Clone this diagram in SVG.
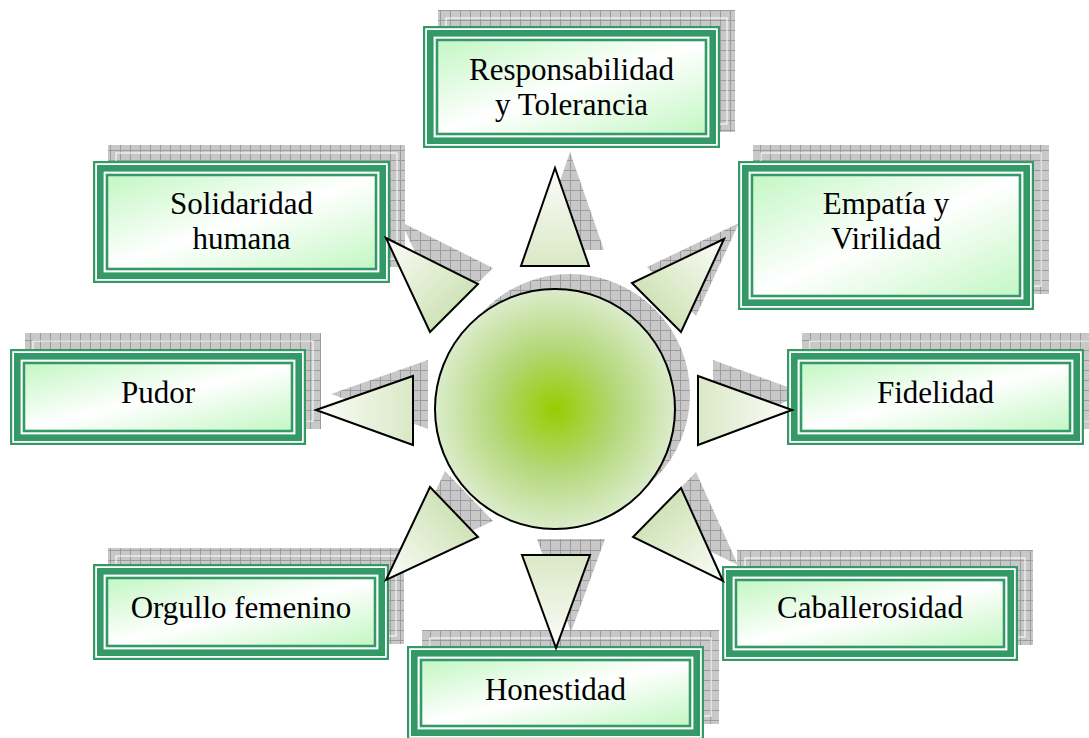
<svg xmlns="http://www.w3.org/2000/svg" width="1089" height="738" viewBox="0 0 1089 738">
<style>
.sh{fill:url(#grid);stroke:none}
.shl{fill:none;stroke:#ffffff;stroke-width:1}
.bg{fill:#ffffff;stroke:none}
.o{fill:none;stroke:#339966;stroke-width:2.2}
.k{fill:none;stroke:#339966;stroke-width:6.6}
.t{fill:none;stroke:#339966;stroke-width:2.6}
.f{fill:url(#boxg);stroke:none}
.tx{font-family:"Liberation Serif","Times New Roman",serif;font-size:31px;fill:#000;text-anchor:middle}
.tri{stroke:#000;stroke-width:2;stroke-linejoin:miter}
</style>
<defs>
<pattern id="grid" patternUnits="userSpaceOnUse" width="10" height="10">
<rect width="10" height="10" fill="#c8c8c8"/>
<path d="M0 0.5H10M0.5 0V10" stroke="#9c9c9c" stroke-width="1"/>
</pattern>
<linearGradient id="boxg" x1="0" y1="0" x2="1" y2="1">
<stop offset="0" stop-color="#c4f7c4"/>
<stop offset="0.5" stop-color="#ffffff"/>
<stop offset="1" stop-color="#c4f7c4"/>
</linearGradient>
<radialGradient id="cg" cx="0.5" cy="0.5" r="0.5">
<stop offset="0" stop-color="#99cc00"/>
<stop offset="0.5" stop-color="#b2d776"/>
<stop offset="1" stop-color="#dbeccb"/>
</radialGradient>
<linearGradient id="g1" gradientUnits="userSpaceOnUse" x1="555" y1="266" x2="555" y2="168"><stop offset="0" stop-color="#dae8c6"/><stop offset="1" stop-color="#fcfdf9"/></linearGradient>
<linearGradient id="g2" gradientUnits="userSpaceOnUse" x1="454" y1="308" x2="386" y2="238"><stop offset="0" stop-color="#d0e3b8"/><stop offset="1" stop-color="#fcfdf9"/></linearGradient>
<linearGradient id="g3" gradientUnits="userSpaceOnUse" x1="656" y1="307" x2="724" y2="239"><stop offset="0" stop-color="#d0e3b8"/><stop offset="1" stop-color="#fcfdf9"/></linearGradient>
<linearGradient id="g4" gradientUnits="userSpaceOnUse" x1="413" y1="410" x2="316" y2="410"><stop offset="0" stop-color="#dae8c6"/><stop offset="1" stop-color="#fcfdf9"/></linearGradient>
<linearGradient id="g5" gradientUnits="userSpaceOnUse" x1="698" y1="410" x2="792" y2="410"><stop offset="0" stop-color="#dae8c6"/><stop offset="1" stop-color="#fcfdf9"/></linearGradient>
<linearGradient id="g6" gradientUnits="userSpaceOnUse" x1="454" y1="512" x2="386" y2="580"><stop offset="0" stop-color="#d0e3b8"/><stop offset="1" stop-color="#fcfdf9"/></linearGradient>
<linearGradient id="g7" gradientUnits="userSpaceOnUse" x1="657" y1="512" x2="723" y2="581"><stop offset="0" stop-color="#d0e3b8"/><stop offset="1" stop-color="#fcfdf9"/></linearGradient>
<linearGradient id="g8" gradientUnits="userSpaceOnUse" x1="556" y1="555" x2="556" y2="648"><stop offset="0" stop-color="#dae8c6"/><stop offset="1" stop-color="#fcfdf9"/></linearGradient>
</defs>
<rect width="1089" height="738" fill="#ffffff"/>

<g id="shadows">
<rect class="sh" x="438" y="10" width="297" height="122"/><rect class="shl" x="446" y="18" width="281" height="106"/>
<rect class="sh" x="108" y="145" width="297" height="122"/><rect class="shl" x="116" y="153" width="281" height="106"/>
<rect class="sh" x="753" y="145" width="296" height="149"/><rect class="shl" x="761" y="153" width="280" height="133"/>
<rect class="sh" x="25" y="333" width="296" height="96"/><rect class="shl" x="33" y="341" width="280" height="80"/>
<rect class="sh" x="802" y="333" width="297" height="96"/><rect class="shl" x="810" y="341" width="281" height="80"/>
<rect class="sh" x="108" y="548" width="296" height="96"/><rect class="shl" x="116" y="556" width="280" height="80"/>
<rect class="sh" x="737" y="550" width="296" height="95"/><rect class="shl" x="745" y="558" width="280" height="79"/>
<rect class="sh" x="422" y="630" width="297" height="94"/><rect class="shl" x="430" y="638" width="281" height="78"/>
<circle class="sh" cx="570" cy="394" r="120"/>
<polygon class="sh" points="570,152 536,250 604,250"/>
<polygon class="sh" points="401,222 493,268 445,316"/>
<polygon class="sh" points="739,223 647,267 696,316"/>
<polygon class="sh" points="331,394 428,360 428,429"/>
<polygon class="sh" points="807,394 713,360 713,429"/>
<polygon class="sh" points="401,564 445,471 493,521"/>
<polygon class="sh" points="738,565 696,472 648,521"/>
<polygon class="sh" points="571,632 537,539 605,539"/>
</g>

<g id="node-responsabilidad">
<rect class="bg" x="423" y="26" width="297" height="122"/>
<rect class="o" x="424.1" y="27.1" width="294.8" height="119.8"/>
<rect class="k" x="430.3" y="33.3" width="282.4" height="107.4"/>
<rect class="f" x="438.3" y="41.3" width="266.4" height="91.4"/>
<rect class="t" x="437" y="40" width="269" height="94"/>
<text class="tx" x="571.5" y="80">Responsabilidad</text>
<text class="tx" x="571.5" y="115">y Tolerancia</text>
</g>

<g id="node-solidaridad">
<rect class="bg" x="93" y="161" width="297" height="122"/>
<rect class="o" x="94.1" y="162.1" width="294.8" height="119.8"/>
<rect class="k" x="100.3" y="168.3" width="282.4" height="107.4"/>
<rect class="f" x="108.3" y="176.3" width="266.4" height="91.4"/>
<rect class="t" x="107" y="175" width="269" height="94"/>
<text class="tx" x="241.5" y="214">Solidaridad</text>
<text class="tx" x="241.5" y="249">humana</text>
</g>

<g id="node-empatia">
<rect class="bg" x="738" y="161" width="296" height="149"/>
<rect class="o" x="739.1" y="162.1" width="293.8" height="146.8"/>
<rect class="k" x="745.3" y="168.3" width="281.4" height="134.4"/>
<rect class="f" x="753.3" y="176.3" width="265.4" height="118.4"/>
<rect class="t" x="752" y="175" width="268" height="121"/>
<text class="tx" x="886" y="214">Empatía y</text>
<text class="tx" x="886" y="249">Virilidad</text>
</g>

<g id="node-pudor">
<rect class="bg" x="10" y="349" width="296" height="96"/>
<rect class="o" x="11.1" y="350.1" width="293.8" height="93.8"/>
<rect class="k" x="17.3" y="356.3" width="281.4" height="81.4"/>
<rect class="f" x="25.3" y="364.3" width="265.4" height="65.4"/>
<rect class="t" x="24" y="363" width="268" height="68"/>
<text class="tx" x="158" y="403">Pudor</text>
</g>

<g id="node-fidelidad">
<rect class="bg" x="787" y="349" width="297" height="96"/>
<rect class="o" x="788.1" y="350.1" width="294.8" height="93.8"/>
<rect class="k" x="794.3" y="356.3" width="282.4" height="81.4"/>
<rect class="f" x="802.3" y="364.3" width="266.4" height="65.4"/>
<rect class="t" x="801" y="363" width="269" height="68"/>
<text class="tx" x="935.5" y="403">Fidelidad</text>
</g>

<g id="node-orgullo">
<rect class="bg" x="93" y="564" width="296" height="96"/>
<rect class="o" x="94.1" y="565.1" width="293.8" height="93.8"/>
<rect class="k" x="100.3" y="571.3" width="281.4" height="81.4"/>
<rect class="f" x="108.3" y="579.3" width="265.4" height="65.4"/>
<rect class="t" x="107" y="578" width="268" height="68"/>
<text class="tx" x="241" y="618">Orgullo femenino</text>
</g>

<g id="node-caballerosidad">
<rect class="bg" x="722" y="566" width="296" height="95"/>
<rect class="o" x="723.1" y="567.1" width="293.8" height="92.8"/>
<rect class="k" x="729.3" y="573.3" width="281.4" height="80.4"/>
<rect class="f" x="737.3" y="581.3" width="265.4" height="64.4"/>
<rect class="t" x="736" y="580" width="268" height="67"/>
<text class="tx" x="870" y="618">Caballerosidad</text>
</g>

<g id="node-honestidad">
<rect class="bg" x="407" y="646" width="297" height="94"/>
<rect class="o" x="408.1" y="647.1" width="294.8" height="91.8"/>
<rect class="k" x="414.3" y="653.3" width="282.4" height="79.4"/>
<rect class="f" x="422.3" y="661.3" width="266.4" height="63.4"/>
<rect class="t" x="421" y="660" width="269" height="66"/>
<text class="tx" x="555.5" y="700">Honestidad</text>
</g>

<g id="node-center">
<circle cx="555" cy="409" r="120" fill="url(#cg)" stroke="#000" stroke-width="2"/>
</g>

<g id="connectors">
<polygon class="tri" fill="url(#g1)" points="555,168 521,266 589,266"/>
<polygon class="tri" fill="url(#g2)" points="386,238 478,284 430,332"/>
<polygon class="tri" fill="url(#g3)" points="724,239 632,283 681,332"/>
<polygon class="tri" fill="url(#g4)" points="316,410 413,376 413,445"/>
<polygon class="tri" fill="url(#g5)" points="792,410 698,376 698,445"/>
<polygon class="tri" fill="url(#g6)" points="386,580 430,487 478,537"/>
<polygon class="tri" fill="url(#g7)" points="723,581 681,488 633,537"/>
<polygon class="tri" fill="url(#g8)" points="556,648 522,555 590,555"/>
</g>
</svg>
